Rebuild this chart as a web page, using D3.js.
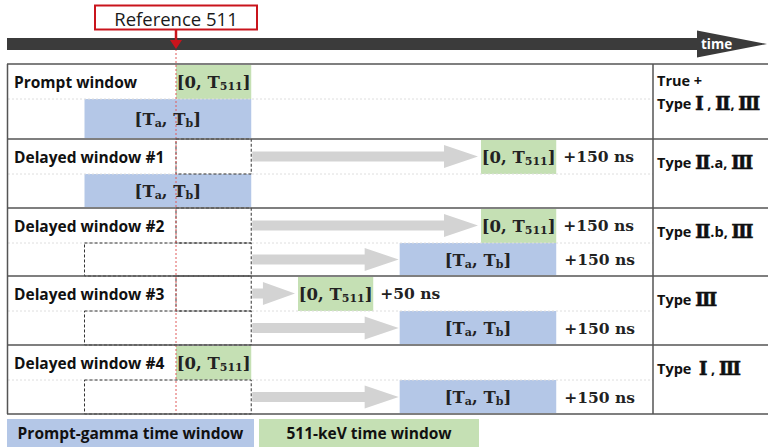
<!DOCTYPE html>
<html>
<head>
<meta charset="utf-8">
<script src="https://cdn.jsdelivr.net/npm/d3@7"></script>
<style>
  body { margin: 0; background: #fff; }
  svg { display: block; }
</style>
</head>
<body>
<div id="chart"></div>
<script>
// rows of the timing table
var rowLabels = ["Prompt window", "Delayed window #1", "Delayed window #2", "Delayed window #3", "Delayed window #4"];
var rowTypes = [
    ["True +", "Type Ⅰ , Ⅱ, Ⅲ"],
    ["Type Ⅱ.a, Ⅲ"],
    ["Type Ⅱ.b, Ⅲ"],
    ["Type Ⅲ"],
    ["Type  Ⅰ , Ⅲ"]
];

// 511-keV window [0, T511] per row (schematic ns)
var win511Start = [0, 150, 150, 60, 0];
var win511End = [37, 187, 187, 97, 37];
var delay511 = ["", "+150 ns", "+150 ns", "+50 ns", ""];

// prompt-gamma window [Ta, Tb] per row (schematic ns)
var pgStart = [-45, -45, 110, 110, 110];
var pgEnd = [37, 37, 187, 187, 187];
var delayPG = ["", "", "+150 ns", "+150 ns", "+150 ns"];

var refT = 0, t511 = 37, tA = -45;

var legendLabels = ["Prompt-gamma time window", "511-keV time window"];

function drawChart() {
    var w = 768;
    var h = 447;
    var blue = "#b4c7e7", green = "#c5e0b4", grey = "#d3d3d3";
    var sans = "'Open Sans', sans-serif";
    var serif = "'DejaVu Serif', serif";

    var svg = d3.select("#chart")
        .append("svg")
        .attr("width", w)
        .attr("height", h);

    var x = d3.scaleLinear().domain([0, 150]).range([176, 481]);

    // row edges of the table
    var rowEdges = [64, 139, 208, 276, 345, 414];
    var colRight = 653;
    var top = function(i) { return rowEdges[i]; };
    var mid = function(i) { return rowEdges[i] + 35; };
    var bot = function(i) { return rowEdges[i + 1]; };

    var rows = d3.range(rowLabels.length);

    // --- windows
    svg.selectAll("rect.w511")
        .data(rows)
        .enter()
        .append("rect")
        .attr("fill", green)
        .attr("x", function(i) { return x(win511Start[i]); })
        .attr("y", function(i) { return top(i) + 1; })
        .attr("width", function(i) { return x(win511End[i]) - x(win511Start[i]); })
        .attr("height", function(i) { return mid(i) - top(i) - 1; });

    svg.selectAll("rect.wpg")
        .data(rows)
        .enter()
        .append("rect")
        .attr("fill", blue)
        .attr("x", function(i) { return x(pgStart[i]); })
        .attr("y", function(i) { return mid(i); })
        .attr("width", function(i) { return x(pgEnd[i]) - x(pgStart[i]); })
        .attr("height", function(i) { return bot(i) - mid(i) - 1; });

    // light dotted half-row lines
    svg.selectAll("line.half")
        .data(rows)
        .enter()
        .append("line")
        .attr("x1", 8).attr("x2", colRight)
        .attr("y1", function(i) { return mid(i); })
        .attr("y2", function(i) { return mid(i); })
        .attr("stroke", "#dedede")
        .attr("stroke-dasharray", "2,2");

    // dashed outlines where a window has been shifted
    var shifted511 = rows.filter(function(i) { return win511Start[i] !== refT; });
    var shiftedPG = rows.filter(function(i) { return pgStart[i] !== tA; });

    svg.selectAll("rect.d511")
        .data(shifted511)
        .enter()
        .append("rect")
        .attr("fill", "none")
        .attr("stroke", "#333")
        .attr("stroke-dasharray", "3,2")
        .attr("x", x(refT))
        .attr("y", function(i) { return top(i); })
        .attr("width", x(t511) - x(refT))
        .attr("height", function(i) { return mid(i) - top(i); });

    svg.selectAll("rect.dpg")
        .data(shiftedPG)
        .enter()
        .append("rect")
        .attr("fill", "none")
        .attr("stroke", "#333")
        .attr("stroke-dasharray", "3,2")
        .attr("x", x(tA))
        .attr("y", function(i) { return mid(i); })
        .attr("width", x(t511) - x(tA))
        .attr("height", function(i) { return bot(i) - mid(i); });

    // grey shift arrows
    function arrowPath(x0, x1, cy) {
        var hl = Math.min(34, (x1 - x0) * 0.75);
        return "M" + x0 + "," + (cy - 5) +
            "L" + (x1 - hl) + "," + (cy - 5) +
            "L" + (x1 - hl) + "," + (cy - 11.5) +
            "L" + x1 + "," + cy +
            "L" + (x1 - hl) + "," + (cy + 11.5) +
            "L" + (x1 - hl) + "," + (cy + 5) +
            "L" + x0 + "," + (cy + 5) + "Z";
    }

    svg.selectAll("path.a511")
        .data(shifted511)
        .enter()
        .append("path")
        .attr("fill", grey)
        .attr("d", function(i) {
            return arrowPath(x(t511) + 1, x(win511Start[i]) - 3, (top(i) + mid(i)) / 2);
        });

    svg.selectAll("path.apg")
        .data(shiftedPG)
        .enter()
        .append("path")
        .attr("fill", grey)
        .attr("d", function(i) {
            return arrowPath(x(t511) + 1, x(pgStart[i]) - 1, (mid(i) + bot(i)) / 2);
        });

    // red reference line
    svg.append("line")
        .attr("x1", x(refT)).attr("x2", x(refT))
        .attr("y1", 49).attr("y2", rowEdges[5])
        .attr("stroke", "#e05a5a")
        .attr("stroke-width", 1)
        .attr("stroke-dasharray", "2,2");

    // table borders
    svg.selectAll("line.row")
        .data(rowEdges)
        .enter()
        .append("line")
        .attr("x1", 7).attr("x2", w + 2)
        .attr("y1", function(d) { return d; })
        .attr("y2", function(d) { return d; })
        .attr("stroke", "#555")
        .attr("stroke-width", 1.5);

    svg.append("line")
        .attr("x1", 7.5).attr("x2", 7.5)
        .attr("y1", rowEdges[0]).attr("y2", rowEdges[5])
        .attr("stroke", "#555").attr("stroke-width", 1.5);

    svg.append("line")
        .attr("x1", colRight).attr("x2", colRight)
        .attr("y1", rowEdges[0]).attr("y2", rowEdges[5])
        .attr("stroke", "#555").attr("stroke-width", 1.5);

    // row labels
    svg.selectAll("text.label")
        .data(rows)
        .enter()
        .append("text")
        .text(function(i) { return rowLabels[i]; })
        .attr("x", 14)
        .attr("y", function(i) { return (top(i) + mid(i)) / 2; })
        .attr("dominant-baseline", "central")
        .attr("font-family", sans)
        .attr("font-weight", "bold")
        .attr("font-size", "15.5px")
        .attr("fill", "#111");

    // window labels with subscripts
    function mathLabel(sel, main1, sub1, main2, sub2, close) {
        sel.append("tspan").text(main1);
        sel.append("tspan").text(sub1).attr("font-size", "11px").attr("dy", 4);
        if (main2) {
            sel.append("tspan").text(main2).attr("dy", -4);
            sel.append("tspan").text(sub2).attr("font-size", "11px").attr("dy", 4);
        }
        sel.append("tspan").text(close).attr("dy", -4);
    }

    rows.forEach(function(i) {
        var t1 = svg.append("text")
            .attr("x", (x(win511Start[i]) + x(win511End[i])) / 2)
            .attr("y", (top(i) + mid(i)) / 2)
            .attr("text-anchor", "middle")
            .attr("dominant-baseline", "central")
            .attr("font-family", serif)
            .attr("font-weight", "bold")
            .attr("font-size", "16.5px")
            .attr("fill", "#222");
        mathLabel(t1, "[0, T", "511", null, null, "]");

        var t2 = svg.append("text")
            .attr("x", (x(pgStart[i]) + x(pgEnd[i])) / 2)
            .attr("y", (mid(i) + bot(i)) / 2)
            .attr("text-anchor", "middle")
            .attr("dominant-baseline", "central")
            .attr("font-family", serif)
            .attr("font-weight", "bold")
            .attr("font-size", "16.5px")
            .attr("fill", "#222");
        mathLabel(t2, "[T", "a", ", T", "b", "]");

        if (delay511[i]) {
            svg.append("text")
                .text(delay511[i])
                .attr("x", x(win511End[i]) + 7)
                .attr("y", (top(i) + mid(i)) / 2)
                .attr("dominant-baseline", "central")
                .attr("font-family", serif)
                .attr("font-weight", "bold")
                .attr("font-size", "15.5px")
                .attr("fill", "#222");
        }
        if (delayPG[i]) {
            svg.append("text")
                .text(delayPG[i])
                .attr("x", x(pgEnd[i]) + 8)
                .attr("y", (mid(i) + bot(i)) / 2)
                .attr("dominant-baseline", "central")
                .attr("font-family", serif)
                .attr("font-weight", "bold")
                .attr("font-size", "15.5px")
                .attr("fill", "#222");
        }

        // type column
        var types = rowTypes[i];
        types.forEach(function(s, k) {
            var y0 = types.length > 1 ? top(i) + 16 + k * 23 : top(i) + 23;
            var t = svg.append("text")
                .attr("x", colRight + 4)
                .attr("y", y0)
                .attr("dominant-baseline", "central")
                .attr("font-family", sans)
                .attr("font-weight", "bold")
                .attr("font-size", "14.5px")
                .attr("fill", "#111")
                .attr("xml:space", "preserve");
            // roman numerals in a serif face, thickened with a stroke
            s.split(/([ⅠⅡⅢ])/).forEach(function(part) {
                if (!part) return;
                var sp = t.append("tspan").text(part);
                if (/[ⅠⅡⅢ]/.test(part)) {
                    sp.attr("font-family", serif)
                        .attr("font-size", "18px")
                        .attr("stroke", "#111")
                        .attr("stroke-width", 0.6);
                }
            });
        });
    });

    // time axis arrow
    svg.append("path")
        .attr("d", "M7,38L697,38L697,30.5L767,44L697,57.5L697,50L7,50Z")
        .attr("fill", "#3b3b3b");

    svg.append("text")
        .text("time")
        .attr("x", 701)
        .attr("y", 44)
        .attr("dominant-baseline", "central")
        .attr("font-family", sans)
        .attr("font-weight", "bold")
        .attr("font-size", "13.5px")
        .attr("fill", "#fff");

    // reference marker
    svg.append("rect")
        .attr("x", 95).attr("y", 5.5)
        .attr("width", 162).attr("height", 24)
        .attr("fill", "#fff")
        .attr("stroke", "#c9141c")
        .attr("stroke-width", 2);

    svg.append("text")
        .text("Reference 511")
        .attr("x", x(refT))
        .attr("y", 18)
        .attr("text-anchor", "middle")
        .attr("dominant-baseline", "central")
        .attr("font-family", sans)
        .attr("font-size", "18.5px")
        .attr("fill", "#1a1a1a");

    svg.append("line")
        .attr("x1", x(refT)).attr("x2", x(refT))
        .attr("y1", 30).attr("y2", 41)
        .attr("stroke", "#c9141c")
        .attr("stroke-width", 2.5);

    svg.append("path")
        .attr("d", "M" + (x(refT) - 6) + ",40L" + (x(refT) + 6) + ",40L" + x(refT) + ",49Z")
        .attr("fill", "#c9141c");

    // legend
    var legX = [7, 259], legW = [247, 220], legFill = [blue, green];
    svg.selectAll("rect.leg")
        .data(legendLabels)
        .enter()
        .append("rect")
        .attr("x", function(d, i) { return legX[i]; })
        .attr("y", 419)
        .attr("width", function(d, i) { return legW[i]; })
        .attr("height", 28)
        .attr("fill", function(d, i) { return legFill[i]; });

    svg.selectAll("text.leg")
        .data(legendLabels)
        .enter()
        .append("text")
        .text(function(d) { return d; })
        .attr("x", function(d, i) { return legX[i] + legW[i] / 2; })
        .attr("y", 433)
        .attr("text-anchor", "middle")
        .attr("dominant-baseline", "central")
        .attr("font-family", sans)
        .attr("font-weight", "bold")
        .attr("font-size", "15.5px")
        .attr("fill", "#111");
}

drawChart();
</script>
</body>
</html>
